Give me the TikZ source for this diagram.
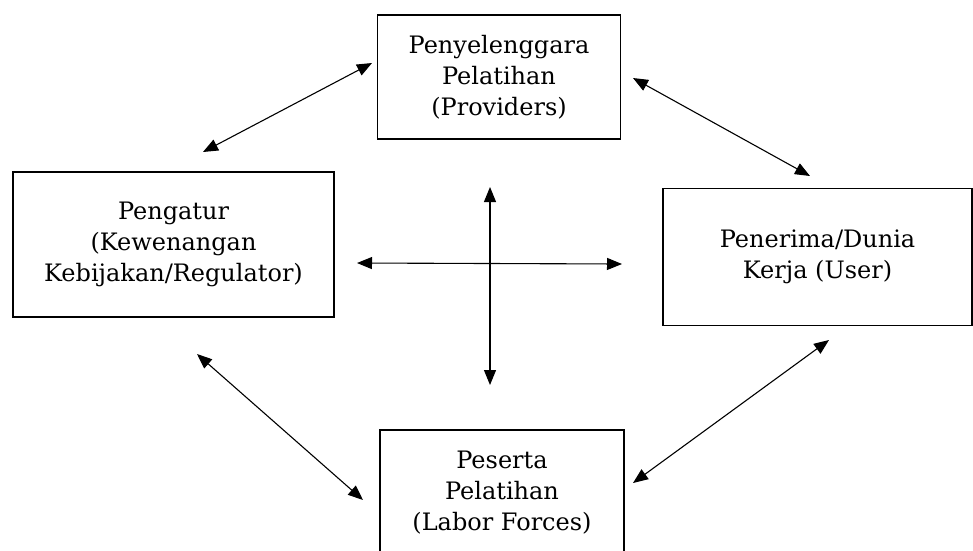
\documentclass[tikz,border=0pt]{standalone}
\usepackage{fontspec}
\setmainfont{DejaVu Serif}
\usetikzlibrary{arrows.meta}
\begin{document}
\begin{tikzpicture}[x=1pt, y=-1pt,
    kotak/.style={draw, line width=1.2pt, align=center, font=\fontsize{24}{31}\selectfont, inner sep=0pt},
    panah/.style={line width=1.1pt, {Triangle[length=15pt,width=12pt]}-{Triangle[length=15pt,width=12pt]}}]
  \useasboundingbox (0,0) rectangle (973,550);
  \node[kotak, minimum width=243pt, minimum height=124pt] (atas) at (499, 77) {Penyelenggara\\Pelatihan\\(Providers)};
  \node[kotak, minimum width=321pt, minimum height=145pt] (kiri) at (173.5, 244.5) {Pengatur\\(Kewenangan\\Kebijakan/Regulator)};
  \node[kotak, minimum width=309pt, minimum height=137pt] (kanan) at (817.5, 257) {Penerima/Dunia\\Kerja (User)};
  \node[kotak, minimum width=244pt, minimum height=126pt] (bawah) at (502, 493) {Peserta\\Pelatihan\\(Labor Forces)};
  \coordinate (a1) at (203, 152);
  \coordinate (a2) at (372, 63);
  \coordinate (b1) at (633, 78);
  \coordinate (b2) at (810, 176);
  \coordinate (c1) at (197, 354);
  \coordinate (c2) at (363, 500);
  \coordinate (d1) at (829, 340);
  \coordinate (d2) at (633, 483);
  \coordinate (v1) at (490, 187);
  \coordinate (v2) at (490, 385);
  \coordinate (h1) at (357, 263);
  \coordinate (h2) at (622, 264);
  \draw[panah] (a1) -- (a2);
  \draw[panah] (b1) -- (b2);
  \draw[panah] (c1) -- (c2);
  \draw[panah] (d1) -- (d2);
  \draw[panah] (v1) -- (v2);
  \draw[panah] (h1) -- (h2);
\end{tikzpicture}
\end{document}
